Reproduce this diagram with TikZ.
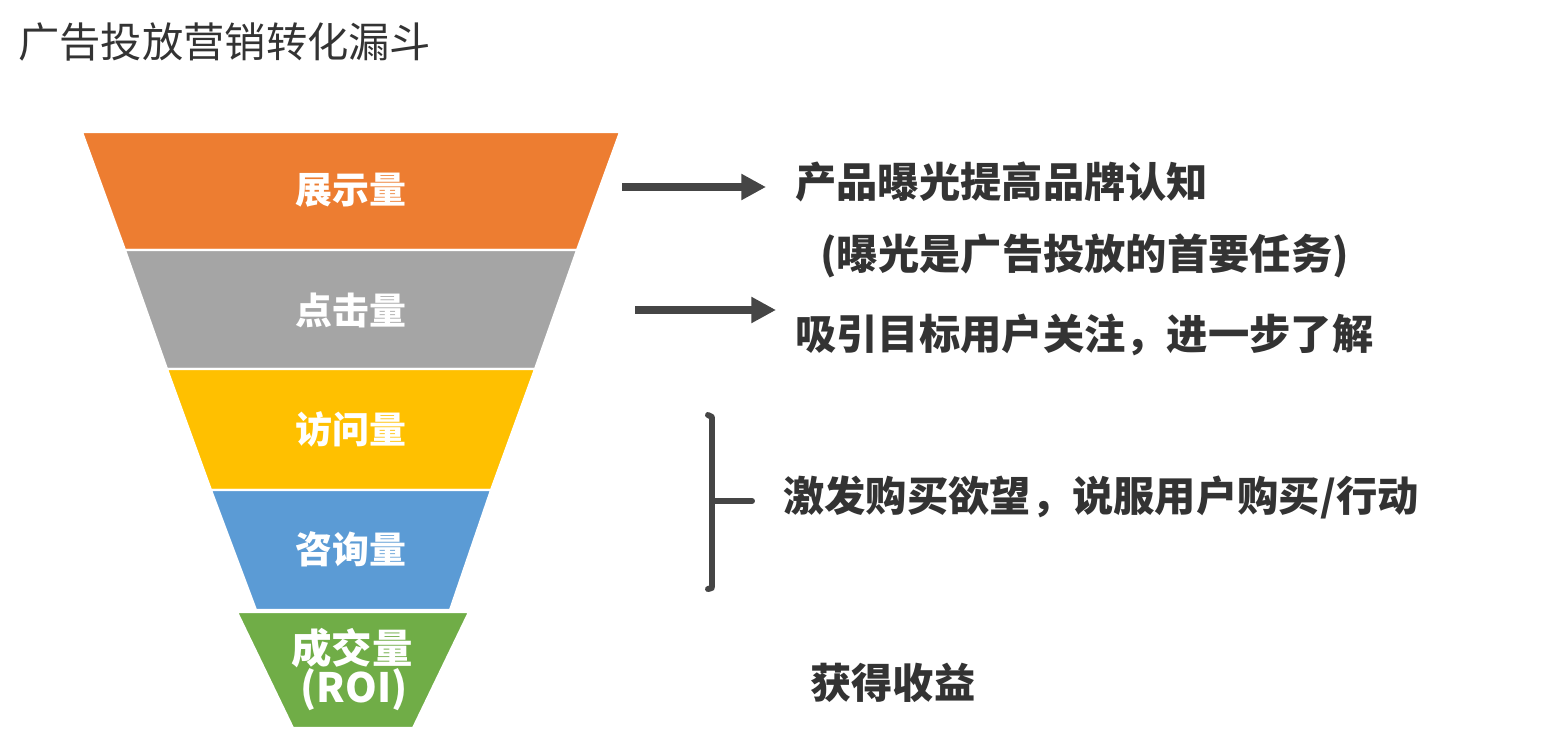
\documentclass[tikz,border=0pt]{standalone}
\usepackage{fontspec}
\setmainfont{Noto Sans CJK SC}
\usetikzlibrary{arrows.meta}
\definecolor{cOrange}{HTML}{ED7D31}
\definecolor{cGray}{HTML}{A5A5A5}
\definecolor{cYellow}{HTML}{FFC000}
\definecolor{cBlue}{HTML}{5B9BD5}
\definecolor{cGreen}{HTML}{70AD47}
\definecolor{cText}{HTML}{333333}
\definecolor{cArrow}{HTML}{454545}
\begin{document}
\begin{tikzpicture}[x=0.02cm,y=-0.02cm,
  band/.style={draw=white,line width=1.2pt},
  flabel/.style={text=white,font=\bfseries\fontsize{21}{24}\selectfont,inner sep=0pt},
  glabel/.style={text=white,font=\bfseries\fontsize{23}{26}\selectfont,inner sep=0pt},
  rtext/.style={text=cText,font=\bfseries\fontsize{23.5}{27}\selectfont,inner sep=0pt,anchor=west},
  ttext/.style={text=cText,font=\fontsize{23.5}{27}\selectfont,inner sep=0pt,anchor=west},
  arr/.style={draw=cArrow,line width=4pt,-{Triangle[length=14pt,width=14pt]}},
  brk/.style={draw=cArrow,line width=3.4pt,line cap=round}]
\useasboundingbox (0,0) rectangle (1552,750);
\fill[white] (0,0) rectangle (1552,750);
% title
\node[ttext] (title) at (18,42) {广告投放营销转化漏斗};
% funnel bands
\fill[cOrange,band] (82,132) -- (620,132) -- (577,250) -- (125,250) -- cycle;
\fill[cGray,band] (125,250) -- (577,250) -- (535,369) -- (167,369) -- cycle;
\fill[cYellow,band] (167,369) -- (535,369) -- (491,490) -- (211,490) -- cycle;
\fill[cBlue,band] (211,490) -- (491,490) -- (450,610) -- (256,610) -- cycle;
\fill[cGreen,band] (237,612) -- (469,612) -- (413,728) -- (293,728) -- cycle;
% funnel labels
\node[flabel] (show) at (351,190) {展示量};
\node[flabel] (click) at (351,310) {点击量};
\node[flabel] (visit) at (351,429) {访问量};
\node[flabel] (consult) at (351,549) {咨询量};
\node[glabel] (deal) at (352,648) {成交量};
\node[glabel] (roi) at (354,690) {(ROI)};
% right texts
\node[rtext] (t1) at (795,182) {产品曝光提高品牌认知};
\node[rtext] (t1b) at (820,256) {(曝光是广告投放的首要任务)};
\node[rtext] (t2) at (795,335) {吸引目标用户关注，进一步了解};
\node[rtext] (t3) at (783,497) {激发购买欲望，说服用户购买/行动};
\node[rtext] (t4) at (810,683) {获得收益};
% arrows
\coordinate (a1s) at (622,187);
\coordinate (a1e) at (766,187);
\coordinate (a2s) at (635,310);
\coordinate (a2e) at (776,310);
\draw[arr] (a1s) -- (a1e);
\draw[arr] (a2s) -- (a2e);
% bracket
\coordinate (bt) at (712,418);
\coordinate (bb) at (712,586);
\coordinate (bm) at (712,501);
\coordinate (bs) at (752,501);
\draw[brk] (708,415) .. controls (712,417) .. (bt) -- (bb) .. controls (712,588) .. (708,589);
\draw[brk] (bm) -- (bs);
\end{tikzpicture}
\end{document}
